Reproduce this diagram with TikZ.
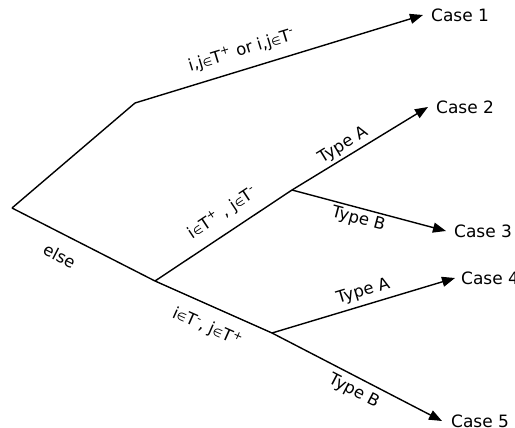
\documentclass[tikz,border=0pt]{standalone}
\usepackage{fontspec}
\setmainfont{DejaVu Sans}
\usetikzlibrary{arrows.meta}
\newcommand{\elm}{{\fontsize{11}{12}\selectfont ∈}}
\begin{document}
\begin{tikzpicture}[x=1pt,y=-1pt,
  edge/.style={line width=1.4pt},
  arr/.style={edge,-{Triangle[length=13pt,width=10pt]}},
  casebox/.style={anchor=west,inner xsep=8pt,inner ysep=1pt,font=\fontsize{17}{20}\selectfont},
  lab/.style={sloped,font=\fontsize{16.5}{19}\selectfont,inner sep=3pt}]
\useasboundingbox (0,0) rectangle (515,428);
\coordinate (root) at (12,208);
\coordinate (k1) at (135,103);
\coordinate (k2) at (155,281);
\coordinate (k3) at (292,190);
\coordinate (k4) at (272,333);
\node[casebox] (c1) at (423,15) {Case 1};
\node[casebox] (c2) at (428,107) {Case 2};
\node[casebox] (c3) at (446,231) {Case 3};
\node[casebox,inner xsep=6pt] (c4) at (455,278) {Case 4};
\node[casebox,inner xsep=9pt] (c5) at (442,421) {Case 5};
\draw[edge] (root) -- (k1);
\draw[arr] (k1) -- (c1.west) node[lab,above,pos=0.39,yshift=7pt] {i,j\elm T\textsuperscript{+} or i,j\elm T\textsuperscript{-}};
\draw[edge] (root) -- (k2) node[lab,below,pos=0.4,yshift=-11pt] {else};
\draw[edge] (k2) -- (k4) node[lab,below,pos=0.52,yshift=-9pt] {i\elm T\textsuperscript{-}, j\elm T\textsuperscript{+}};
\draw[edge] (k2) -- (k3) node[lab,above,pos=0.57,yshift=7pt] {i\elm T\textsuperscript{+} , j\elm T\textsuperscript{-}};
\draw[arr] (k3) -- (c2.west) node[lab,above,pos=0.42] {Type A};
\draw[arr] (k3) -- (c3.west) node[lab,below,pos=0.45] {Type B};
\draw[arr] (k4) -- (c4.west) node[lab,above,pos=0.52,yshift=2pt] {Type A};
\draw[arr] (k4) -- (c5.west) node[lab,below,pos=0.52,yshift=-3pt] {Type B};
\end{tikzpicture}
\end{document}
